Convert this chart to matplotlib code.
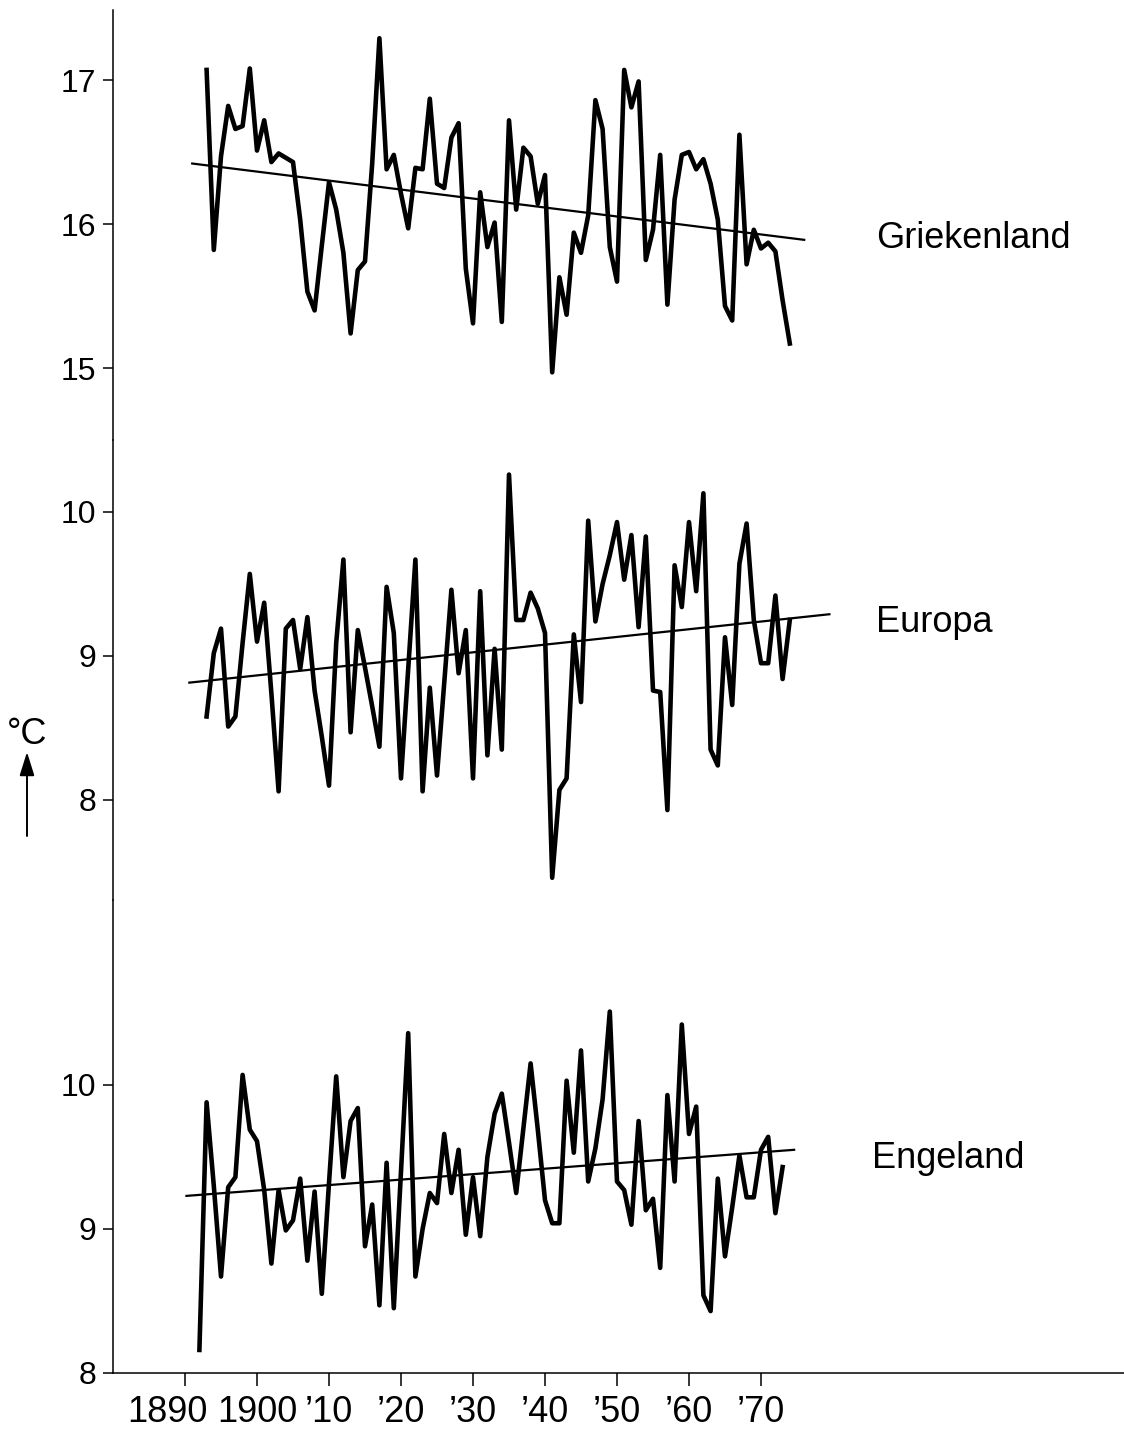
import matplotlib
matplotlib.use("Agg")
import matplotlib.pyplot as plt
from matplotlib.transforms import ScaledTranslation

# schreefloze letter (smalste die beschikbaar is)
NORMAL = ['Liberation Sans', 'DejaVu Sans']
plt.rcParams['font.family'] = NORMAL

# ---- gegevens (jaargemiddelde temperatuur, graden C) ----
years_gr = list(range(1893, 1975))
temp_gr = [17.07, 15.82, 16.47, 16.82, 16.66, 16.68, 17.08, 16.51, 16.72, 16.43,
           16.49, 16.46, 16.43, 16.03, 15.53, 15.40, 15.85, 16.29, 16.10, 15.80,
           15.24, 15.68, 15.74, 16.42, 17.29, 16.38, 16.48, 16.21, 15.97, 16.39,
           16.38, 16.87, 16.28, 16.25, 16.60, 16.70, 15.69, 15.31, 16.22, 15.84,
           16.01, 15.32, 16.72, 16.10, 16.53, 16.47, 16.14, 16.34, 14.97, 15.63,
           15.37, 15.94, 15.80, 16.06, 16.86, 16.66, 15.84, 15.60, 17.07, 16.81,
           16.99, 15.75, 15.96, 16.48, 15.44, 16.17, 16.48, 16.50, 16.38, 16.45,
           16.28, 16.03, 15.43, 15.33, 16.62, 15.72, 15.96, 15.83, 15.87, 15.81,
           15.47, 15.17]
trend_gr_years = [1891, 1976]
trend_gr = [16.42, 15.89]

years_eu = list(range(1893, 1975))
temp_eu = [8.58, 9.02, 9.19, 8.51, 8.58, 9.09, 9.57, 9.10, 9.37, 8.74,
           8.06, 9.19, 9.25, 8.91, 9.27, 8.76, 8.44, 8.10, 9.09, 9.67,
           8.47, 9.18, 8.92, 8.65, 8.37, 9.48, 9.16, 8.15, 8.91, 9.67,
           8.06, 8.78, 8.17, 8.81, 9.46, 8.88, 9.18, 8.15, 9.45, 8.31,
           9.05, 8.35, 10.26, 9.25, 9.25, 9.44, 9.33, 9.16, 7.46, 8.07,
           8.15, 9.15, 8.68, 9.94, 9.24, 9.50, 9.70, 9.93, 9.53, 9.84,
           9.20, 9.83, 8.76, 8.75, 7.93, 9.63, 9.34, 9.93, 9.45, 10.13,
           8.35, 8.24, 9.13, 8.66, 9.64, 9.92, 9.25, 8.95, 8.95, 9.42,
           8.84, 9.25]
trend_eu_years = [1890.6, 1979.5]
trend_eu = [8.815, 9.29]

years_en = list(range(1892, 1974))
temp_en = [8.16, 9.88, 9.30, 8.67, 9.29, 9.36, 10.07, 9.69, 9.61, 9.27,
           8.76, 9.27, 8.99, 9.06, 9.35, 8.78, 9.26, 8.55, 9.32, 10.06,
           9.36, 9.75, 9.84, 8.88, 9.17, 8.47, 9.46, 8.45, 9.40, 10.36,
           8.67, 9.00, 9.25, 9.18, 9.66, 9.25, 9.55, 8.96, 9.36, 8.95,
           9.50, 9.80, 9.94, 9.60, 9.25, 9.70, 10.15, 9.69, 9.20, 9.04,
           9.04, 10.03, 9.53, 10.24, 9.33, 9.56, 9.90, 10.51, 9.33, 9.27,
           9.03, 9.75, 9.13, 9.21, 8.73, 9.93, 9.33, 10.42, 9.66, 9.85,
           8.54, 8.43, 9.35, 8.81, 9.15, 9.51, 9.22, 9.22, 9.55, 9.64,
           9.11, 9.43]
trend_en_years = [1890.2, 1974.6]
trend_en = [9.23, 9.55]

xtick_years = [1890, 1900, 1910, 1920, 1930, 1940, 1950, 1960, 1970]
xtick_labels = ['1890', '1900', '\u201910', '\u201920', '\u201930',
                '\u201940', '\u201950', '\u201960', '\u201970']

# ---- opmaak in pixels van de afbeelding ----
W, H = 1124, 1439
PX_YEAR = 7.2      # pixels per jaar
PX_DEG = 144.0     # pixels per graad
X1890 = 185        # pixelpositie van 1890
LEFT, RIGHT = 113, 1124

fig = plt.figure(figsize=(W / 100, H / 100), dpi=100)
xlim = (1890 - (X1890 - LEFT) / PX_YEAR, 1890 + (RIGHT - X1890) / PX_YEAR)

def make_panel(top, bottom, ref_val, ref_px, ticks):
    ax = fig.add_axes([LEFT / W, 1 - bottom / H, (RIGHT - LEFT) / W, (bottom - top) / H])
    ax.set_xlim(*xlim)
    ax.set_ylim(ref_val - (bottom - ref_px) / PX_DEG, ref_val + (ref_px - top) / PX_DEG)
    ax.patch.set_visible(False)
    for side in ['top', 'right', 'bottom']:
        ax.spines[side].set_visible(False)
    ax.spines['left'].set_linewidth(1.1)
    ax.set_yticks(ticks)
    ax.set_yticklabels([str(t) for t in ticks])
    ax.tick_params(axis='y', direction='out', length=7, width=1.1, pad=5,
                   labelsize=23, colors='black')
    ax.tick_params(axis='x', bottom=False, labelbottom=False)
    return ax

ax_gr = make_panel(10, 440, 17, 80, [15, 16, 17])
ax_eu = make_panel(440, 900, 10, 512, [8, 9, 10])
ax_en = make_panel(900, 1373, 8, 1373, [8, 9, 10])

# tijdreeksen en trendlijnen
for ax, yrs, vals, tyrs, tvals in [(ax_gr, years_gr, temp_gr, trend_gr_years, trend_gr),
                                   (ax_eu, years_eu, temp_eu, trend_eu_years, trend_eu),
                                   (ax_en, years_en, temp_en, trend_en_years, trend_en)]:
    ax.plot(yrs, vals, color='black', lw=3.3, solid_joinstyle='round', clip_on=False)
    ax.plot(tyrs, tvals, color='black', lw=1.6, clip_on=False)

# namen rechts van de reeksen
ax_gr.text(1986, 15.90, 'Griekenland', fontsize=26, va='center', ha='left')
ax_eu.text(1986, 9.23, 'Europa', fontsize=26, va='center', ha='left')
ax_en.text(1985.4, 9.49, 'Engeland', fontsize=26, va='center', ha='left')

# x-as onderaan
ax_en.spines['bottom'].set_visible(True)
ax_en.spines['bottom'].set_linewidth(1.1)
ax_en.set_xticks(xtick_years)
ax_en.set_xticklabels(xtick_labels)
ax_en.tick_params(axis='x', bottom=True, labelbottom=True, direction='out',
                  length=9, width=1.1, pad=7, labelsize=26, colors='black')
lbl = ax_en.get_xticklabels()[0]
lbl.set_transform(lbl.get_transform() + ScaledTranslation(-0.18, 0, fig.dpi_scale_trans))

# eenheid met pijl
fig.text(27 / W, 1 - 734 / H, '\u00b0C', fontsize=26, ha='center', va='center')
ax_en.annotate('', xy=(27 / W, 1 - 752 / H), xytext=(27 / W, 1 - 836 / H),
               xycoords='figure fraction', textcoords='figure fraction',
               arrowprops=dict(arrowstyle='-|>,head_length=0.8,head_width=0.25',
                               lw=1.4, color='black', mutation_scale=18,
                               shrinkA=0, shrinkB=0))

fig.savefig('out.png', dpi=100)
